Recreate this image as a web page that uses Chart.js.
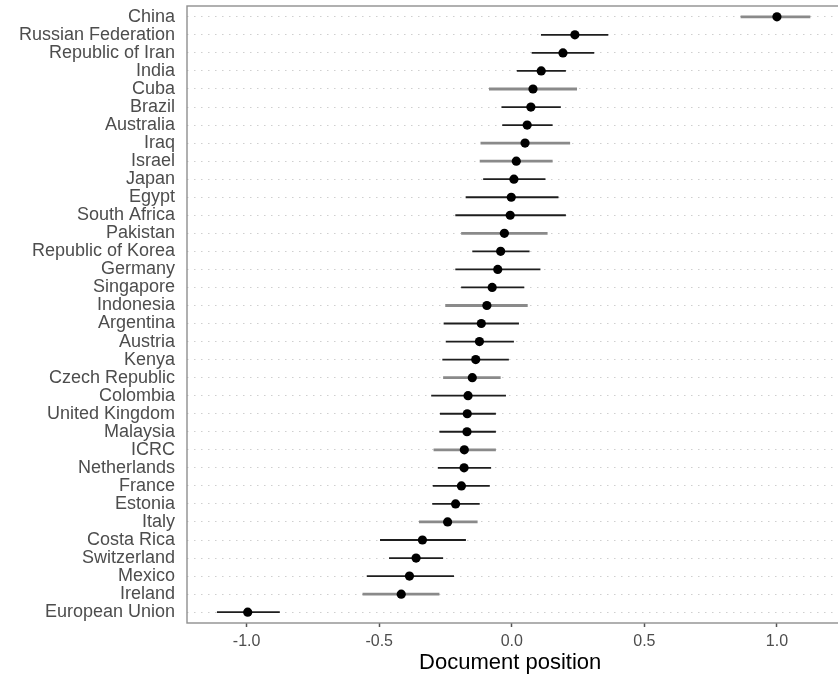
<!DOCTYPE html>
<html>
<head>
<meta charset="utf-8">
<script src="https://cdn.jsdelivr.net/npm/chart.js@4.4.1/dist/chart.umd.min.js"></script>
<style>
  html, body { margin:0; padding:0; background:#fff; }
  #wrap { width:838px; height:678px; }
</style>
</head>
<body>
<div id="wrap"><canvas id="posChart" width="838" height="678"></canvas></div>
<script>
const countries = ['China','Russian Federation','Republic of Iran','India','Cuba','Brazil','Australia','Iraq','Israel','Japan',
  'Egypt','South Africa','Pakistan','Republic of Korea','Germany','Singapore','Indonesia','Argentina','Austria','Kenya',
  'Czech Republic','Colombia','United Kingdom','Malaysia','ICRC','Netherlands','France','Estonia','Italy','Costa Rica',
  'Switzerland','Mexico','Ireland','European Union'];
const estimate = [1.0, 0.238, 0.193, 0.111, 0.080, 0.072, 0.058, 0.050, 0.017, 0.008,
  -0.002, -0.006, -0.028, -0.042, -0.053, -0.074, -0.094, -0.115, -0.122, -0.136,
  -0.149, -0.165, -0.168, -0.169, -0.179, -0.180, -0.190, -0.212, -0.242, -0.337,
  -0.361, -0.386, -0.417, -0.996];
const lower = [0.863, 0.110, 0.075, 0.019, -0.086, -0.039, -0.036, -0.118, -0.121, -0.108,
  -0.174, -0.213, -0.191, -0.149, -0.213, -0.191, -0.251, -0.257, -0.249, -0.262,
  -0.259, -0.304, -0.271, -0.273, -0.295, -0.279, -0.298, -0.300, -0.350, -0.497,
  -0.463, -0.547, -0.563, -1.112];
const upper = [1.126, 0.364, 0.311, 0.204, 0.246, 0.185, 0.154, 0.220, 0.154, 0.127,
  0.176, 0.204, 0.135, 0.067, 0.108, 0.047, 0.060, 0.027, 0.008, -0.011,
  -0.042, -0.022, -0.060, -0.060, -0.060, -0.078, -0.083, -0.121, -0.129, -0.173,
  -0.259, -0.218, -0.273, -0.875];
const xTicks = [-1.0, -0.5, 0.0, 0.5, 1.0];
const xTickLabels = ['-1.0', '-0.5', '0.0', '0.5', '1.0'];

// rows whose whisker renders lighter/thicker in the original (anti-aliasing)
const softRows = new Set([0, 4, 7, 8, 12, 16, 20, 24, 28, 32]);

const whiskers = countries.map((c, i) => ({
  label: c,
  type: 'line',
  data: [{x: lower[i], y: i}, {x: upper[i], y: i}],
  borderColor: softRows.has(i) ? '#8a8a8a' : '#1e1e1e',
  borderWidth: softRows.has(i) ? 2.8 : 1.8,
  pointRadius: 0,
  showLine: true,
}));

const panelBorder = {
  id: 'panelBorder',
  beforeDatasetsDraw(chart) {
    const a = chart.chartArea, ctx = chart.ctx;
    ctx.save();
    ctx.strokeStyle = '#8f8f8f';
    ctx.lineWidth = 1.4;
    ctx.strokeRect(a.left, a.top, a.right - a.left + 6, a.bottom - a.top);
    ctx.restore();
  }
};

Chart.defaults.font.family = "'Liberation Sans', Arial, sans-serif";

new Chart(document.getElementById('posChart'), {
  type: 'scatter',
  data: {
    datasets: [
      {label: 'estimate', data: estimate.map((v, i) => ({x: v, y: i})), backgroundColor: '#000', borderWidth: 0, pointRadius: 4.6},
      ...whiskers
    ]
  },
  options: {
    responsive: false,
    animation: false,
    layout: {padding: {top: 6, right: 0, left: 0, bottom: 0}},
    plugins: {legend: {display: false}, tooltip: {enabled: false}},
    scales: {
      x: {
        type: 'linear', min: -1.225, max: 1.213,
        afterBuildTicks: ax => { ax.ticks = xTicks.map(v => ({value: v})); },
        afterFit: ax => { ax.height = 55; ax.paddingLeft = 0; ax.paddingRight = 0; },
        grid: {drawOnChartArea: false, drawTicks: true, tickLength: 4, tickColor: '#555', tickWidth: 1.5},
        border: {display: false},
        ticks: {padding: 5, color: '#4d4d4d', font: {size: 16}, callback: (v, i) => xTickLabels[i]},
        title: {display: true, text: 'Document position', color: '#000', font: {size: 22}, padding: {top: 0, bottom: 2}}
      },
      y: {
        type: 'linear', min: -0.6, max: 33.6, reverse: true,
        afterBuildTicks: ax => { ax.ticks = countries.map((c, i) => ({value: i})); },
        afterFit: ax => { ax.width = 187; ax.paddingTop = 0; ax.paddingBottom = 0; },
        grid: {color: '#cfcfcf', lineWidth: 1, drawTicks: false},
        border: {display: false, dash: [1.5, 5.5]},
        ticks: {padding: 12, color: '#4d4d4d', font: {size: 18}, autoSkip: false, callback: v => countries[v]}
      }
    }
  },
  plugins: [panelBorder]
});
</script>
</body>
</html>
